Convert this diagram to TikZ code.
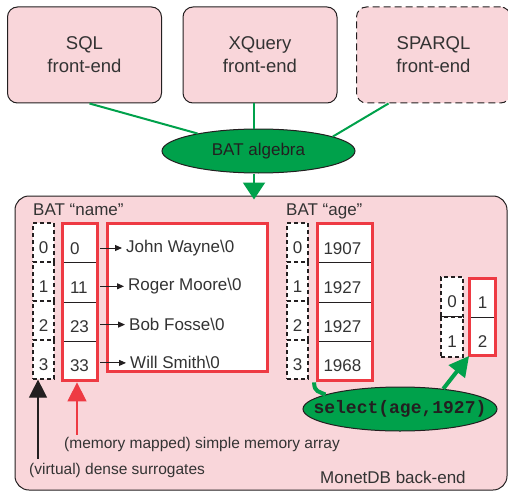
\documentclass[tikz,border=0pt]{standalone}
\usepackage{fontspec}
\setmainfont{Liberation Sans}
\setmonofont{Liberation Mono}
\usetikzlibrary{arrows.meta,shapes.geometric}
\definecolor{pinkfill}{HTML}{F9D6DA}
\definecolor{algebra}{HTML}{00A14B}
\definecolor{heap}{HTML}{EE3A43}
\definecolor{ink}{HTML}{231F20}
\definecolor{txt}{HTML}{333333}

\begin{document}
\begin{tikzpicture}[x=1pt,y=-1pt,font=\fontsize{17}{22}\selectfont,text=txt,
  frontend/.style={draw=ink,line width=1pt,fill=pinkfill,rounded corners=10pt,
    minimum width=154pt,minimum height=96pt,align=center,font=\fontsize{18.5}{23}\selectfont},
  oval/.style={ellipse,draw=ink,line width=1pt,fill=algebra,text=ink,inner sep=0pt},
  flow/.style={draw=algebra,line width=2pt},
  oid/.style={draw=ink,dash pattern=on 4pt off 3pt,line width=1.2pt,fill=white,
    minimum width=21pt,minimum height=39pt,inner sep=0pt,text height=21pt,text depth=0pt},
  cell/.style={draw=ink,line width=0.8pt,fill=white,minimum height=39.25pt,inner xsep=7.5pt,
    inner ysep=0pt,align=left,text height=22pt,text depth=0pt},
  redframe/.style={draw=heap,line width=3pt},
  note/.style={font=\fontsize{15.5}{18}\selectfont,inner sep=0pt,anchor=base west}]
  \useasboundingbox (0,0) rectangle (508,492);

  \node[frontend] (sql) at (84.5,55) {SQL\\front-end};
  \node[frontend] (xq) at (260,55) {XQuery\\front-end};
  \node[frontend,dash pattern=on 7pt off 4pt] (sparql) at (433.5,55) {SPARQL\\front-end};
  \node[oval,minimum width=193pt,minimum height=44pt] (alg) at (258.5,151) {BAT algebra};
  \coordinate (drop) at ([xshift=-4.5pt]alg.south);
  \draw[flow] ([xshift=5pt]sql.south) -- (alg.164);
  \draw[flow] (xq.south -| drop) -- (alg.north -| drop);
  \draw[flow] ([xshift=-45pt]sparql.south) -- (alg.11);

  \node[draw=ink,line width=1pt,fill=pinkfill,rounded corners=14pt,
    minimum width=492pt,minimum height=294pt] (back) at (261,343) {};
  \draw[flow,shorten >=-4pt,-{Triangle[width=22pt,length=17pt]}] (drop) -- (drop |- back.north);

  \node[anchor=base west,inner sep=0pt] (namelbl) at (33,215) {BAT “name”};
  \node[redframe,fill=white,minimum width=160pt,minimum height=148pt] (heapbox) at (187.5,297.5) {};
  \foreach \i/\v/\x/\nm in {0/0/122/John Wayne,1/11/124/Roger Moore,2/23/125/Bob Fosse,3/33/126/Will Smith}{
    \node[oid] (n\i) at (43.5,{242.5+39*\i}) {\i};
    \node[cell,text width=20pt] (h\i) at (80,{243.1+39.25*\i}) {\v};
    \node[anchor=west,inner xsep=4pt] (s\i) at (\x,{248+38.3*\i}) {\nm\textbackslash0};
    \draw[draw=ink,line width=0.9pt,shorten <=2.5pt,-{Triangle[width=6pt,length=7pt]}] (h\i.east |- s\i.west) -- (s\i.west);
  }
  \draw[redframe] (h0.north west) rectangle (h3.south east);

  \node[anchor=base west,inner sep=0pt] (agelbl) at (286,215) {BAT “age”};
  \foreach \i/\v in {0/1907,1/1927,2/1927,3/1968}{
    \node[oid] (m\i) at (297.5,{242.5+39*\i}) {\i};
    \node[cell,inner xsep=6pt,text width=43pt] (a\i) at (345,{243.1+39.25*\i}) {\v};
  }
  \draw[redframe] (a0.north west) rectangle (a3.south east);

  \foreach \i/\v in {0/1,1/2}{
    \node[oid,minimum width=22pt,minimum height=40pt] (r\i) at (452,{297+40*\i}) {\i};
    \node[cell,minimum width=26pt,minimum height=38.5pt,align=center,inner xsep=0pt] (q\i) at (482.5,{297.75+38.5*\i}) {\v};
  }
  \draw[redframe] (q0.north west) rectangle (q1.south east);

  \node[oval,minimum width=194pt,minimum height=44pt,font=\ttfamily\bfseries\fontsize{18}{20}\selectfont]
    (sel) at (400,409) {\makebox[0pt]{select(age,1927)}};
  \draw[flow,line width=4pt] ([xshift=-3pt,yshift=-1.5pt]a3.south west) .. controls +(0,10) and +(-6,-3) .. (sel.169);
  \draw[flow,line width=4pt,-{Triangle[width=20pt,length=20pt]}] (sel.25) -- (q1.south west);

  \node[note] (virt) at (29,474) {(virtual) dense surrogates};
  \coordinate (vtop) at ([xshift=-5.5pt]n3.south);
  \draw[draw=ink,line width=1.2pt,shorten <=4pt,-{Triangle[width=18pt,length=18pt]}] (vtop |- virt.north) -- (vtop);
  \node[note] (mmap) at (64,448) {(memory mapped) simple memory array};
  \coordinate (mtop) at ([xshift=-3pt,yshift=-1.5pt]h3.south);
  \draw[draw=heap,line width=1.2pt,shorten <=2pt,-{Triangle[width=19pt,length=19pt]}] (mtop |- mmap.north) -- (mtop);
  \node[anchor=base west,inner sep=0pt] (monet) at (320,483) {MonetDB back-end};
\end{tikzpicture}
\end{document}
